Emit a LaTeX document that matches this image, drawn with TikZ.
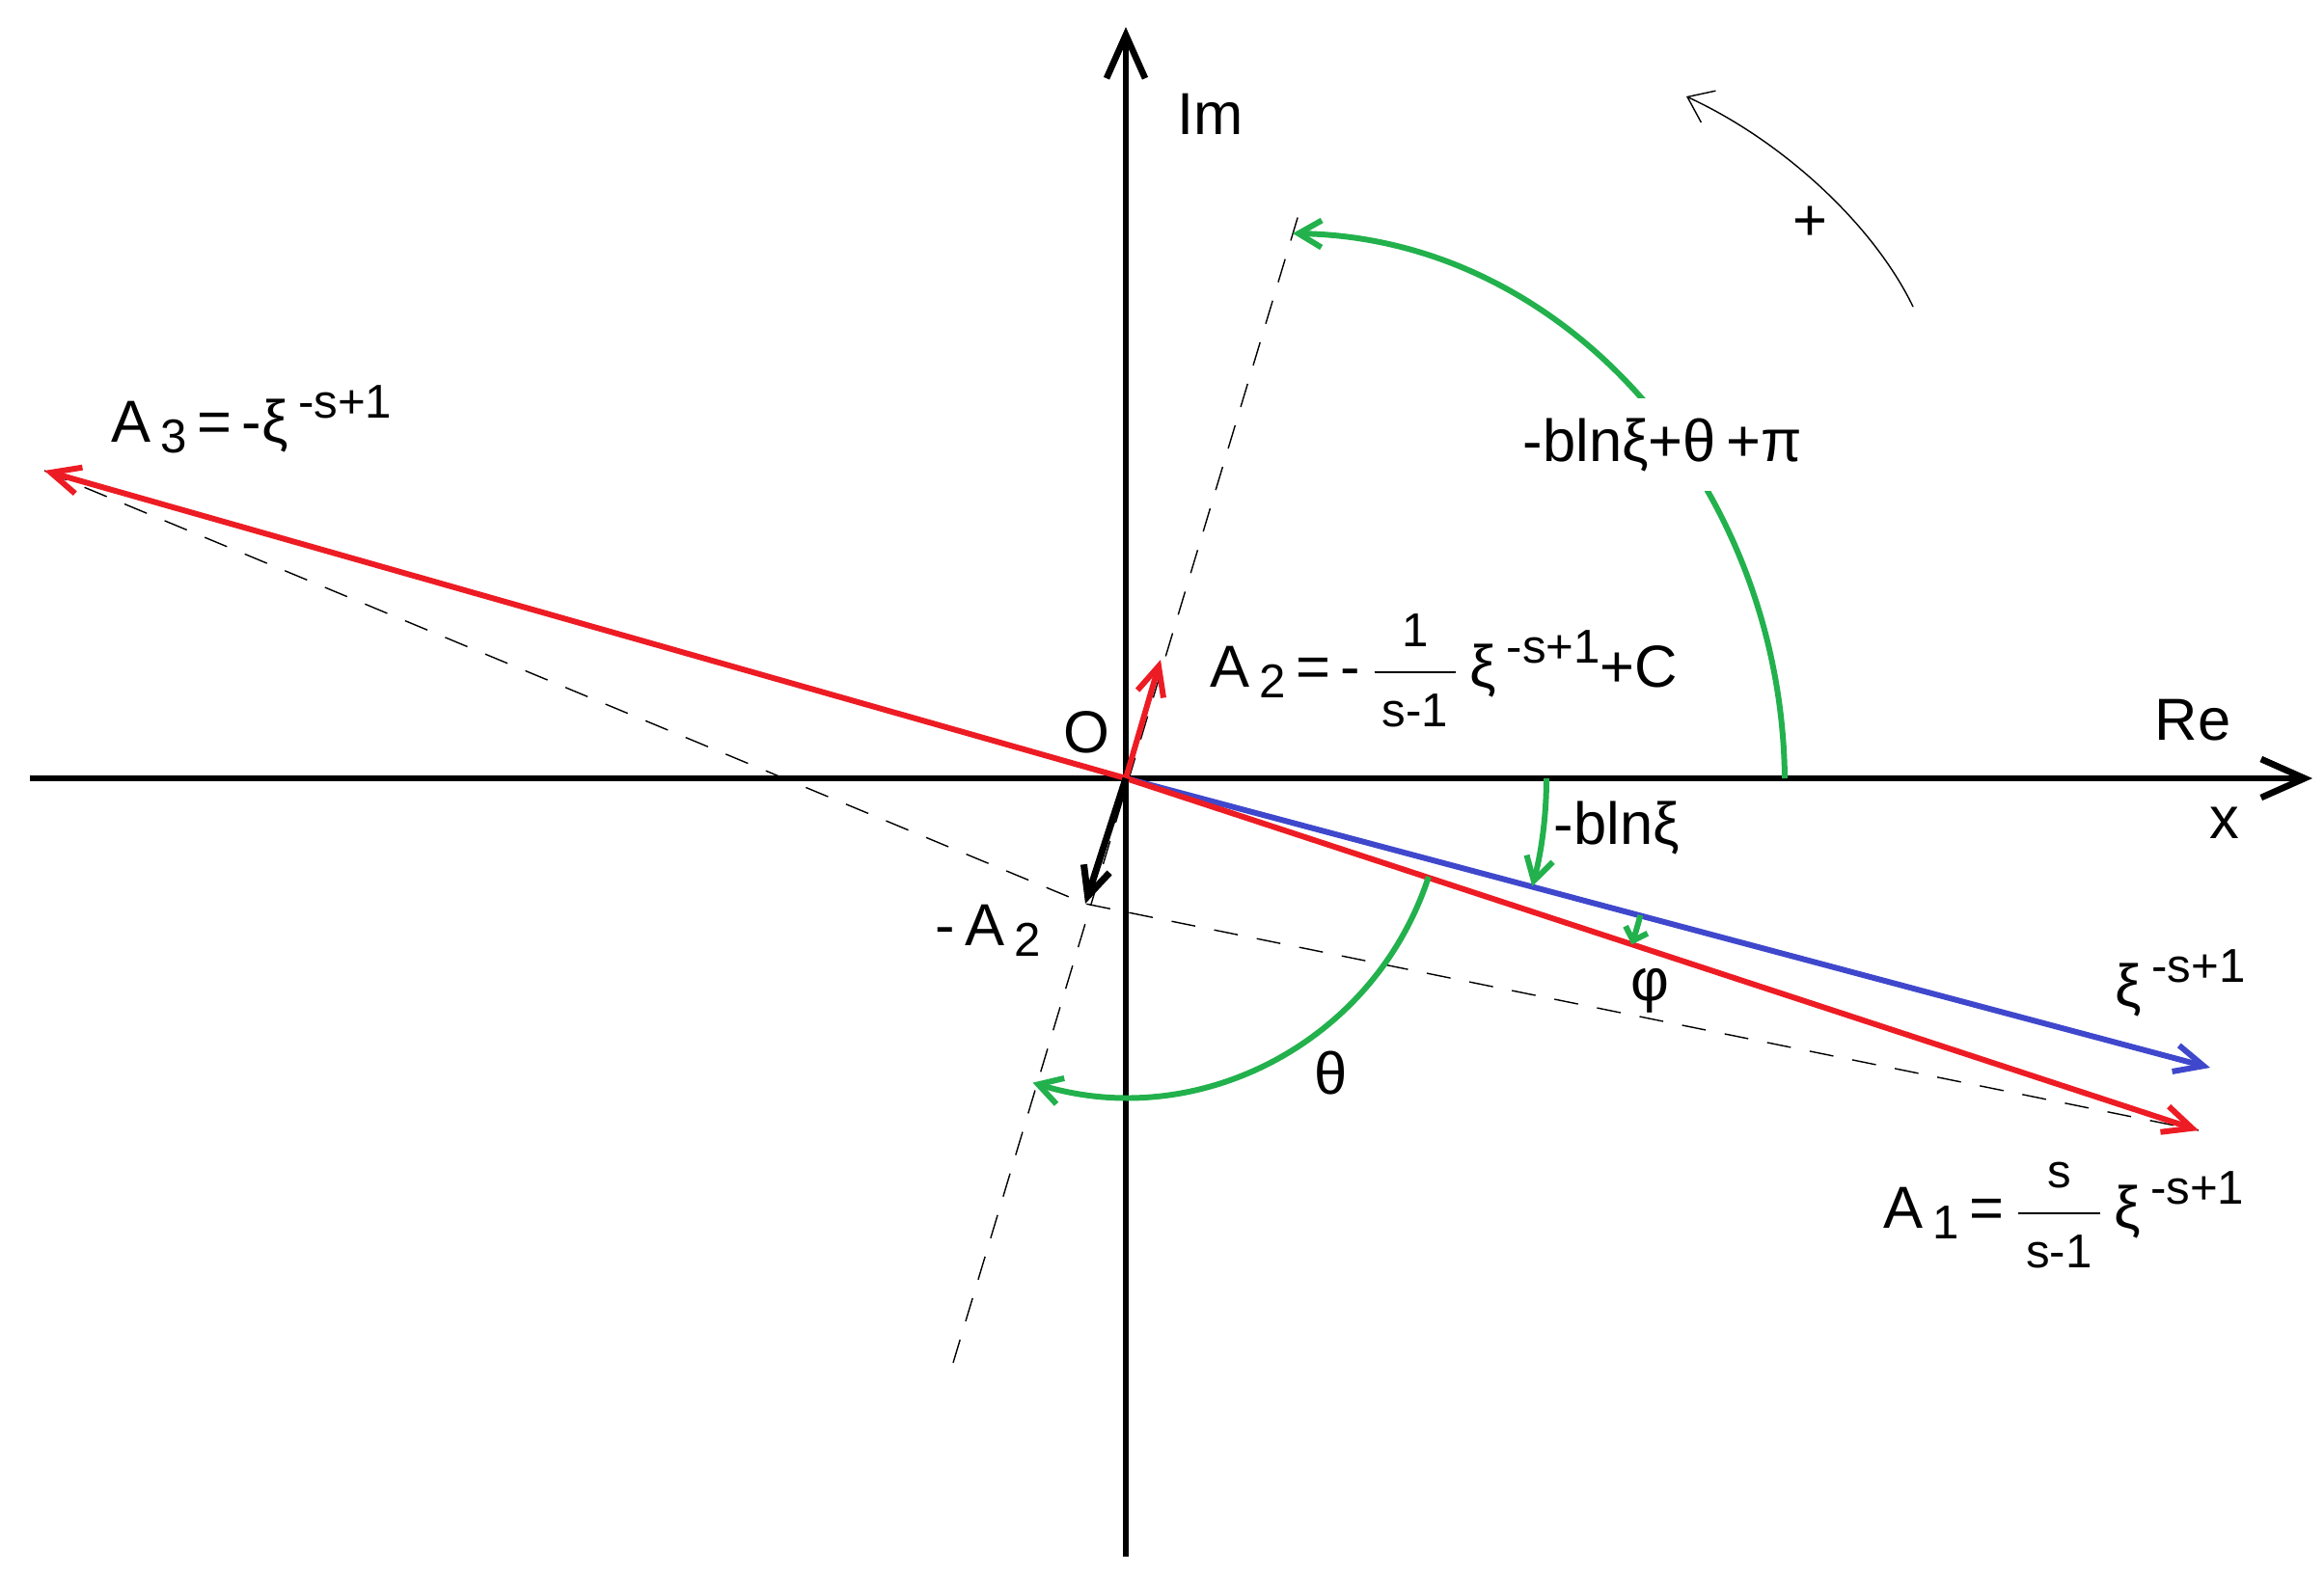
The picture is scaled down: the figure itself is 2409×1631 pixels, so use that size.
\documentclass[tikz,border=0pt]{standalone}
\usepackage{fontspec}
\setmainfont{Liberation Sans}
\usepackage{tikz}
\usetikzlibrary{positioning}
\usetikzlibrary{arrows.meta}
\definecolor{myred}{RGB}{237,28,36}
\definecolor{myblue}{RGB}{63,72,204}
\definecolor{mygreen}{RGB}{34,177,76}
\newcommand{\bigtxt}{\fontsize{17.5}{20}\selectfont}
\newcommand{\smalltxt}{\fontsize{14}{16}\selectfont}
\newcommand{\lowtxt}[1]{\,\raisebox{-3.4pt}{\smalltxt #1}}
\newcommand{\hightxt}[1]{\,\raisebox{7pt}{\smalltxt #1}}
\newcommand{\fracbox}[2]{$\displaystyle\frac{\mbox{\smalltxt\strut\,#1\,}}{\mbox{\smalltxt\strut\,#2\,}}$}
\tikzset{axis/.style={line width=1.9pt,-{Straight Barb[length=4.5mm,width=4mm]}},
  redvec/.style={myred,line width=1.7pt,-{Straight Barb[length=3mm,width=2.8mm]}},
  bluevec/.style={myblue,line width=1.7pt,-{Straight Barb[length=3mm,width=2.8mm]}},
  blackvec/.style={black,line width=2pt,-{Straight Barb[length=3mm,width=2.8mm]}},
  anglearc/.style={mygreen,line width=1.7pt,-{Straight Barb[length=2.4mm,width=2.8mm]}},
  guide/.style={black,line width=0.4pt,dash pattern=on 2.5mm off 2mm},
  lbl/.style={font=\bigtxt,inner sep=0pt},}

\begin{document}
\begin{tikzpicture}[x=0.1mm,y=0.1mm]
    \useasboundingbox (-1167,-824) rectangle (1242,807);
    \coordinate (O) at (0,0);
    \coordinate (xl) at (-1136,0);
    \coordinate (xr) at (1230,0);
    \coordinate (yb) at (0,-807);
    \coordinate (yt) at (0,779);
    \coordinate (A1) at (1112,-365);
    \coordinate (B) at (1124,-300);
    \coordinate (A2) at (36,123);
    \coordinate (mA2) at (-42,-130);
    \coordinate (A3) at (-1121,319);
    \coordinate (dt) at (181,591);
    \coordinate (db) at (-179,-606);

    % construction lines
    \draw[guide] (db) -- (dt);
    \draw[guide] (A3) -- (mA2) -- (A1);

    \draw[axis] (xl) -- (xr);
    \draw[axis] (yb) -- (yt);

    \path (O) edge[bluevec] (B)
              edge[redvec] (A1)
              edge[redvec] (A3)
              edge[redvec] (A2)
              edge[blackvec] (mA2);

    % angles
    \draw[anglearc] (683,0) .. controls (680,300) and (460,560) .. (173,565);
    \draw[anglearc] (0:436) arc[start angle=0,end angle=-14.9,radius=436];
    \draw[anglearc,-{Straight Barb[length=1.2mm,width=2.4mm]}] (-14.9:552) arc[start angle=-14.9,end angle=-18.2,radius=552];
    \draw[anglearc] (-18:330) arc[start angle=-18,end angle=-107,radius=330];
    \draw[line width=0.4pt,-{Straight Barb[length=2.4mm,width=3.6mm]}] (816,489) .. controls (775,574) and (681,661) .. (581,707);

    % labels
    \node[lbl] (Olbl) [above left=2.5mm and 1.6mm of O] {O};
    \node[lbl, anchor=base west] (Im) at (53,668) {Im};
    \node[lbl, anchor=base west] (Re) at (1066,40) {Re};
    \node[lbl, anchor=base west] (xlbl) at (1123,-62) {x};
    \node[lbl] (plus) at (709,575) {+};
    \node[lbl, anchor=base west] (A3l) at (-1052,349) {A\lowtxt{3}\,=\,-ξ\hightxt{-s+1}};
    \node[lbl, anchor=base west] (A2l) at (87,95) {A\lowtxt{2}\,=\,-\,\fracbox{1}{s-1}\,ξ\hightxt{-s+1}+C};
    \node[lbl, anchor=base west] (mA2l) at (-198,-173) {-\,A\lowtxt{2}};
    \node[lbl, anchor=base west] (Bl) at (1025,-236) {ξ\hightxt{-s+1}};
    \node[lbl, anchor=base west] (A1l) at (785,-466) {A\lowtxt{1}\,=\,\fracbox{s}{s-1}\,ξ\hightxt{-s+1}};
    \node[lbl, anchor=base west] (bln) at (443,-68) {-blnξ};
    \node[lbl, anchor=base west, fill=white, inner ysep=2mm] (sum) at (411,329) {-blnξ+θ\,+π};
    \node[lbl] (theta) at (213,-306) {θ};
    \node[lbl] (phi) at (543,-220) {φ};
\end{tikzpicture}
\end{document}
